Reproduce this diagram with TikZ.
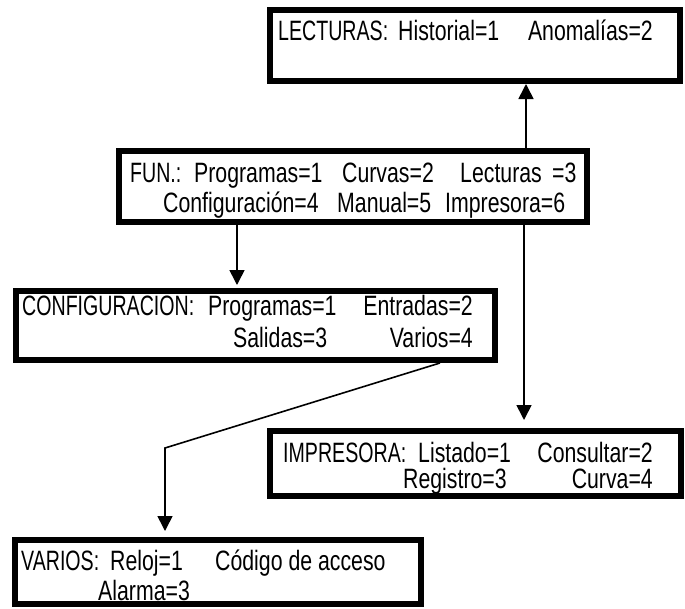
\documentclass[tikz,border=0pt]{standalone}
\usepackage{fontspec}
\setmainfont{Liberation Sans}[FakeStretch=0.76]
\newfontfamily\capsfont{Liberation Sans}[FakeStretch=0.70]
\usetikzlibrary{arrows.meta}
\begin{document}
\begin{tikzpicture}[x=1pt,y=-1pt,
  frame/.style={draw, line width=6pt, inner sep=0pt},
  lbl/.style={anchor=base west, inner sep=0pt, font=\fontsize{28}{30}\selectfont},
  rlbl/.style={lbl, anchor=base east},
  conn/.style={line width=1.6pt, -{Triangle[width=15pt,length=15pt]}}]
\useasboundingbox (0,0) rectangle (685,608);

% menu boxes (border centre lines)
\node[frame, minimum width=410pt, minimum height=71pt] (lect)   at (475,45.5)  {};
\node[frame, minimum width=468pt, minimum height=71pt] (fun)    at (353,186.5) {};
\node[frame, minimum width=479pt, minimum height=69pt] (config) at (255.5,325.5) {};
\node[frame, minimum width=411pt, minimum height=65pt] (impr)   at (475.5,463.5) {};
\node[frame, minimum width=406pt, minimum height=64pt] (varios) at (218,572) {};

% LECTURAS
\node[lbl] (l1) at (278,40) {\capsfont LECTURAS:};
\node[lbl] (l2) at (398,40) {Historial=1};
\node[rlbl] (l3) at (653,40) {Anomalías=2};

% FUN.
\node[lbl] (f1) at (130,182) {\capsfont FUN.:};
\node[lbl] (f2) at (194,182) {Programas=1};
\node[lbl] (f3) at (342,182) {Curvas=2};
\node[lbl] (f4) at (460,182) {Lecturas};
\node[lbl] (f5) at (552,182) {=3};
\node[lbl] (f6) at (163,212) {Configuración=4};
\node[lbl] (f7) at (337,212) {Manual=5};
\node[lbl] (f8) at (445,212) {Impresora=6};

% CONFIGURACION
\node[lbl] (c1) at (22,315) {\capsfont CONFIGURACION:};
\node[lbl] (c2) at (208,315) {Programas=1};
\node[rlbl] (c3) at (473,315) {Entradas=2};
\node[lbl] (c4) at (233,347) {Salidas=3};
\node[rlbl] (c5) at (473,347) {Varios=4};

% IMPRESORA
\node[lbl] (i1) at (283,462) {\capsfont IMPRESORA:};
\node[lbl] (i2) at (418,462) {Listado=1};
\node[rlbl] (i3) at (653,462) {Consultar=2};
\node[lbl] (i4) at (403,488) {Registro=3};
\node[rlbl] (i5) at (653,488) {Curva=4};

% VARIOS
\node[lbl] (v1) at (21,570) {\capsfont VARIOS:};
\node[lbl] (v2) at (110,570) {Reloj=1};
\node[lbl] (v3) at (215,570) {Código de acceso};
\node[lbl] (v4) at (98,600) {Alarma=3};

% connector columns
\coordinate (xa) at (526,0);
\coordinate (xb) at (237,0);
\coordinate (xc) at (524,0);
\coordinate (xd) at (440,0);
\coordinate (bend) at (165,448);

\draw[conn] (fun.north -| xa) -- (lect.south -| xa);
\draw[conn, shorten >=3pt] (fun.south -| xb) -- (config.north -| xb);
\draw[conn, shorten >=8pt] (fun.south -| xc) -- (impr.north -| xc);
\draw[conn, shorten >=6pt] (config.south -| xd) -- (bend) -- (bend |- varios.north);
\end{tikzpicture}
\end{document}
